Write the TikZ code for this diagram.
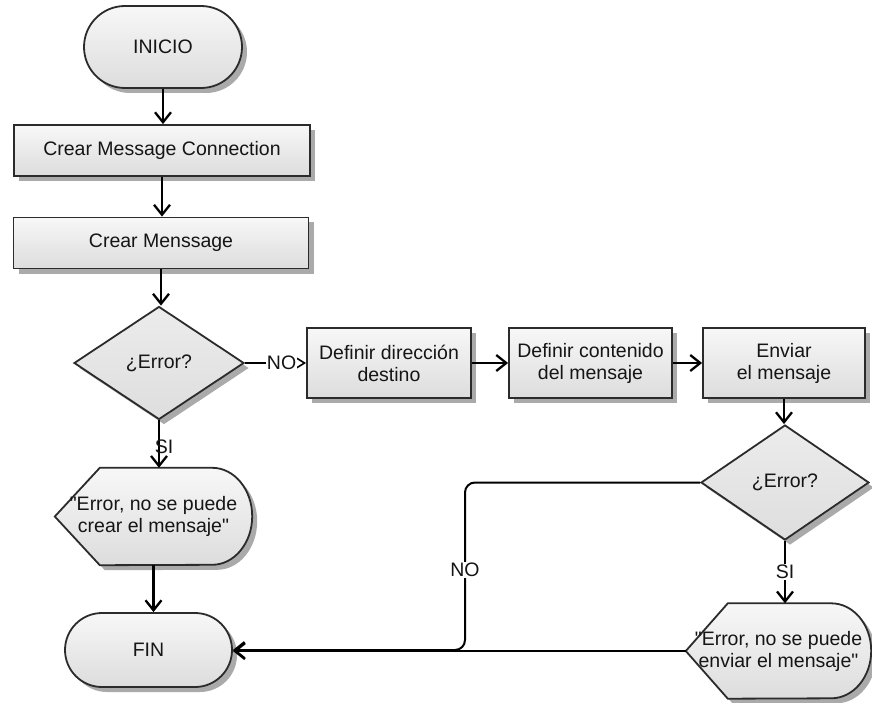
\documentclass[tikz,border=0pt]{standalone}
\usepackage{fontspec}
\setmainfont{Liberation Sans}[Ligatures=TeXOff]
\usetikzlibrary{shapes.geometric, arrows.meta, shadows, backgrounds}
\definecolor{edge}{HTML}{2B2B2B}
\definecolor{shadowgray}{HTML}{AAAAAA}
\definecolor{ink}{HTML}{151515}
\begin{document}
\begin{tikzpicture}[x=1pt, y=-1pt,
  font=\fontsize{19.5}{22}\selectfont,
  shadowed/.style={drop shadow={shadow xshift=5pt, shadow yshift=-5pt, fill=shadowgray, opacity=1}},
  base/.style={draw=edge, line width=1.8pt, text=ink, align=center, inner sep=2pt,
    top color=gray!6, bottom color=gray!27, shadowed},
  term/.style={base},
  proc/.style={base, rectangle},
  dec/.style={base, diamond, top color=gray!15, bottom color=gray!26, aspect=1.5},
  disp/.style={text=ink, align=center, inner sep=0pt},
  dispshape/.style={draw=edge, line width=1.8pt, top color=gray!6, bottom color=gray!27, shadowed},
  conn/.style={draw=black, line width=2.3pt, -{Straight Barb[length=10pt, width=16pt]}},
  lbl/.style={fill=white, inner sep=1pt, text=ink}
]
\useasboundingbox (0,0) rectangle (872,703);

% start / end
\node[term, minimum width=158pt, minimum height=82pt, rounded corners=41pt] (start) at (163,47) {INICIO};
\node[term, minimum width=167pt, minimum height=74pt, rounded corners=37pt] (stop) at (148.5,650) {FIN};

% process steps
\node[proc, minimum width=296pt, minimum height=51pt] (conn) at (162,150.5) {Crear Message Connection};
\node[proc, minimum width=295pt, minimum height=51pt] (msg) at (161,243) {Crear Menssage};
\node[proc, minimum width=164pt, minimum height=70pt] (dest) at (389,363) {Definir dirección\\destino};
\node[proc, minimum width=163pt, minimum height=70pt] (body) at (590.5,363) {Definir contenido\\del mensaje};
\node[proc, minimum width=162pt, minimum height=70pt] (send) at (784,363) {Enviar\\el mensaje};

% decisions
\node[dec, minimum width=170pt, minimum height=113pt] (err1) at (159,363) {¿Error?};
\node[dec, minimum width=168pt, minimum height=115pt] (err2) at (785,482.5) {¿Error?};

% error displays
\node[disp, minimum width=197pt, minimum height=97pt] (msg1) at (153.5,516.5) {"Error, no se puede\\crear el mensaje"};
\node[disp, minimum width=185pt, minimum height=95pt] (msg2) at (778.5,651) {"Error, no se puede\\enviar el mensaje"};
\begin{scope}[on background layer]
  \path[dispshape] (msg1.west) -- ([xshift=45pt]msg1.north west) -- ([xshift=-40pt]msg1.north east)
    arc[start angle=90, end angle=-90, x radius=40pt, y radius=48.5pt]
    -- ([xshift=45pt]msg1.south west) -- cycle;
  \path[dispshape] (msg2.west) -- ([xshift=42pt]msg2.north west) -- ([xshift=-40pt]msg2.north east)
    arc[start angle=90, end angle=-90, x radius=40pt, y radius=47.5pt]
    -- ([xshift=42pt]msg2.south west) -- cycle;
\end{scope}

% connectors
\draw[conn] (start.south) -- (start.south |- conn.north);
\draw[conn] (conn.south) -- (conn.south |- msg.north);
\draw[conn] (msg.south) -- (msg.south |- err1.north);
\draw[conn] (err1.south) -- (err1.south |- msg1.north)
  node[pos=0.55, xshift=5pt, text=ink] {SI};
\draw[conn] (msg1.south) -- (msg1.south |- stop.north);
\draw[conn, -{Triangle[open, fill=white, length=11pt, width=13pt, line width=1.6pt]}] (err1.east) -- (dest.west)
  node[lbl, pos=0.6] {NO};
\draw[conn] (dest.east) -- (dest.east -| body.west);
\draw[conn] (body.east) -- (body.east -| send.west);
\draw[conn] (send.south) -- (send.south |- err2.north);
\draw[conn] (err2.south) -- (err2.south |- msg2.north)
  node[lbl, pos=0.5] {SI};
\coordinate (nobend) at (465,560);
\draw[conn, line width=2pt, rounded corners=10pt] (err2.west) -| (nobend) |- (stop.east);
\draw[conn, line width=2.6pt] (msg2.west) -- (msg2.west -| stop.east);
\node[lbl] (nolabel) at (465,570) {NO};
\end{tikzpicture}
\end{document}
